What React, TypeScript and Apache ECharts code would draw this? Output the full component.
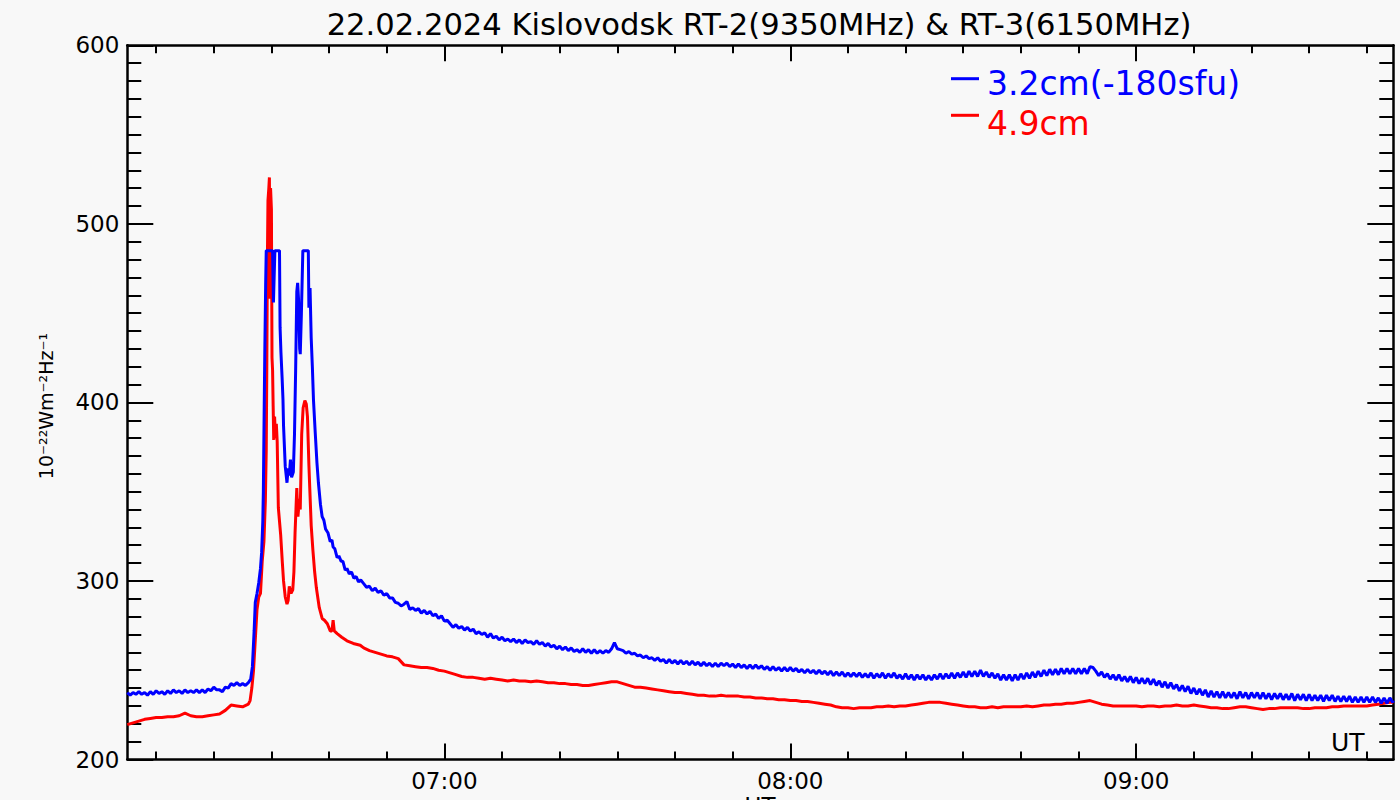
import React, { useEffect, useRef } from "react";
import * as echarts from "echarts";

const TITLE = "22.02.2024 Kislovodsk RT-2(9350MHz) & RT-3(6150MHz)";
const Y_NAME = "10⁻²²Wm⁻²Hz⁻¹";
const LEGEND_BLUE = "3.2cm(-180sfu)";
const LEGEND_RED = "4.9cm";
const X_UNIT = "UT";

// time axis in minutes after 06:00 UT
const X_MIN = 5;
const X_MAX = 224.6;
const X_MAJOR = [60, 120, 180];
const X_MINOR = [10, 20, 30, 40, 50, 70, 80, 90, 100, 110, 130, 140, 150, 160, 170, 190, 200, 210, 220];
const Y_MIN = 200;
const Y_MAX = 600;
const Y_STEP = 100;

// before the flare: blue every half minute, red every minute, from 06:05
const PRE_START = 5;
const bluePre = [
  237.5, 236, 237.5, 236.5, 238, 236.5, 237.5, 236, 238, 236.5,
  238.5, 237, 238, 236.5, 238.5, 237, 239, 237.5, 238.5, 237,
  239, 237.5, 238.5, 237.5, 239, 237.5, 239, 237.5, 239.5, 238.5,
  240.5, 239, 239, 238, 240.5, 240, 242.5, 241.5, 243, 241.5,
  242.5, 241.5,
];
const redPre = [219.5, 220.5, 221.5, 222.5, 223, 223.5, 223.5, 224, 224, 224.5, 226, 224.5, 224, 224, 224.5, 225, 225.5, 227.5, 230.5, 230, 229.5];

// flare: [minute, sfu]
const blueFlare: [number, number][] = [
  [26, 243], [26.4, 245], [26.7, 252], [27.0, 272], [27.2, 288], [27.5, 293], [27.8, 299], [28.1, 307],
  [28.3, 316], [28.5, 333], [28.6, 350], [28.75, 398], [28.85, 428], [29.0, 466], [29.1, 485], [30.2, 485],
  [30.35, 456], [30.6, 485], [31.4, 485], [31.5, 442], [31.65, 428], [31.85, 414], [32.0, 402], [32.1, 387],
  [32.4, 364], [32.7, 355], [32.9, 363], [33.1, 359], [33.3, 368], [33.5, 358], [33.8, 361], [34.0, 382],
  [34.2, 418], [34.4, 462], [34.55, 467], [34.7, 458], [34.9, 430], [35.0, 427], [35.2, 450], [35.45, 485],
  [36.4, 485], [36.5, 453], [36.7, 464], [36.9, 436], [37.1, 420], [37.3, 401], [37.6, 383], [37.9, 366],
  [38.15, 355], [38.5, 343], [38.8, 336], [39.1, 334], [39.4, 329], [39.8, 327], [40.2, 322], [40.5, 323],
  [40.7, 319], [41.0, 318], [41.4, 313], [41.7, 314], [42.1, 311], [42.4, 311], [42.8, 306], [43.1, 307],
  [43.5, 304], [43.9, 305], [44.3, 301.5], [44.7, 302.5], [45.1, 299.5], [45.5, 300.5],
];
const redFlare: [number, number][] = [
  [26, 231], [26.3, 233], [26.6, 240], [26.9, 250], [27.2, 267], [27.5, 284], [27.8, 291], [28.1, 293],
  [28.4, 311], [28.7, 322], [28.95, 345], [29.1, 373], [29.2, 420], [29.3, 480], [29.4, 513], [29.55, 520],
  [29.65, 526], [29.75, 458], [29.85, 520], [30.0, 508], [30.1, 425], [30.2, 418], [30.3, 398], [30.4, 379],
  [30.55, 392], [30.7, 380], [30.85, 388], [31.0, 378], [31.2, 341], [31.6, 326], [31.9, 310], [32.1, 300],
  [32.4, 291], [32.7, 287], [32.9, 289], [33.1, 297], [33.4, 293], [33.7, 295], [33.9, 305], [34.1, 327],
  [34.4, 352], [34.6, 336], [34.85, 346], [35.0, 340], [35.25, 382], [35.5, 397], [35.8, 401], [36.05, 399],
  [36.25, 392], [36.5, 365], [36.65, 352], [36.9, 331], [37.2, 317], [37.5, 305], [37.8, 296], [38.3, 285],
  [38.8, 279], [39.2, 278], [39.7, 276], [40.2, 272], [40.5, 272], [40.7, 278], [40.9, 272], [41.4, 270.5],
  [42.2, 268.5], [43.1, 266.5], [44.2, 265], [45.4, 264],
];

// decay: blue every half minute from 06:46, red every minute from 06:46
const TAIL_START = 46;
const blueTail = [
  298.5, 296.5, 297, 294.5, 296, 293.5, 294.5, 292, 293, 290.5,
  290.5, 288, 287.5, 286, 287, 288.5, 284, 285, 283.5, 284.5,
  282, 283.5, 281.5, 283, 280.5, 281.5, 279, 280.5, 277.5, 278,
  276, 274, 275.5, 273.5, 274.5, 272.5, 274, 272, 273, 270.5,
  271.5, 270, 271, 268.5, 270.5, 268, 269, 267, 268.5, 266.5,
  267.5, 266, 267.5, 265.5, 267, 265, 267, 265.5, 266, 264.5,
  266.5, 264.5, 265.5, 263.5, 265, 263, 264, 262, 263.5, 261.5,
  263, 261, 262.5, 260.5, 261.5, 260, 262, 260, 261.5, 259.5,
  261.5, 259.5, 261, 259.5, 261, 260, 262, 265.5, 262, 261.5,
  261, 259.5, 260.5, 259, 259.5, 258, 258.5, 257, 258, 256.5,
  257, 255.5, 257, 255, 256, 254, 256, 254, 255.5, 253.5,
  255.5, 253.5, 255, 253, 255, 253, 254.5, 252.5, 254.5, 252.5,
  254, 252, 254, 252, 254, 252.5, 254, 252, 253.5, 251.5,
  253.5, 251.5, 253, 251, 253, 251, 253, 251, 252.5, 250.5,
  252, 250, 252, 250, 251.5, 249.5, 251.5, 249.5, 251.5, 249.5,
  251, 249, 250.5, 248.5, 250.5, 248.5, 250, 248, 250, 248,
  249.5, 247.5, 249.5, 247, 249, 247, 249, 246.5, 248.5, 246.5,
  248.5, 246.5, 248.5, 246, 248, 246, 248.5, 245.5, 248, 246,
  248.5, 245.5, 248, 246, 248.5, 245.5, 247.5, 245, 248, 245,
  247.5, 244.5, 247.5, 245, 247.5, 244.5, 247, 244.5, 247.5, 245,
  248, 245, 248, 245.5, 248.5, 245.5, 248.5, 246, 249, 246,
  249.5, 246.5, 249.5, 246.5, 250, 246.5, 249, 246, 248.5, 245.5,
  248, 244.5, 247.5, 244.5, 247.5, 244, 247.5, 244.5, 248, 245,
  248.5, 245.5, 249, 246, 249.5, 246.5, 250, 247, 250.5, 247.5,
  250.5, 247.5, 251, 248, 251, 248, 251, 248, 251, 248,
  251, 248, 252, 251.5, 249.5, 247, 249, 246, 248, 245,
  247.5, 244.5, 247.5, 244, 246.5, 243.5, 246.5, 243, 246, 242.5,
  245.5, 242.5, 245.5, 242, 245, 241.5, 244, 240.5, 243.5, 240,
  243, 239.5, 242, 238.5, 241.5, 238, 241, 237, 240, 236.5,
  239.5, 236, 239, 235, 238.5, 235, 238, 234.5, 238, 234.5,
  237.5, 234.5, 237.5, 234, 238, 234.5, 237.5, 234, 237.5, 234.5,
  237.5, 234, 237.5, 234, 237, 233.5, 237, 234, 237, 233.5,
  236.5, 233.5, 237, 233, 236.5, 233.5, 236.5, 233, 236.5, 233,
  236, 233, 236, 232.5, 236, 233, 236, 232.5, 235.5, 232.5,
  235.5, 232.5, 235.5, 232, 235, 232, 235, 232, 235, 232,
  235, 232, 234.5, 231.5, 234.5, 231.5, 234.5, 232,
];
const redTail = [
  262.5, 261, 260, 259, 258, 257.5, 256.5, 253, 252.5, 252,
  251.5, 251.5, 251, 250, 249.5, 248.5, 247.5, 246.5, 246, 246,
  245.5, 245, 245.5, 245, 244.5, 244, 244.5, 244, 244, 243.5,
  244, 243.5, 243, 243, 242.5, 242.5, 242, 242, 241.5, 241.5,
  242, 242.5, 243, 243.5, 243.5, 242.5, 241.5, 240.5, 240.5, 240,
  239.5, 239, 238.5, 238, 237.5, 237.5, 237, 236.5, 236, 236,
  235.5, 235.5, 236, 235.5, 235.5, 235.5, 235, 235, 234.5, 234.5,
  234, 234, 233.5, 233.5, 233, 233, 232.5, 232.5, 232, 231.5,
  231, 230.5, 229.5, 229, 229, 228.5, 229, 229, 229, 229.5,
  229.5, 230, 229.5, 230, 230, 230.5, 231, 231.5, 232, 232,
  232, 231.5, 231, 230.5, 230, 229.5, 229.5, 229, 229, 229.5,
  229, 229.5, 229.5, 229.5, 229.5, 230, 229.5, 230, 230.5, 230.5,
  231, 231, 231.5, 231.5, 232, 232.5, 233, 232, 231, 230.5,
  230, 230, 230, 230, 230, 229.5, 230, 230, 229.5, 230,
  230, 230.5, 230, 230, 230.5, 230, 229.5, 229, 229, 228.5,
  228.5, 229, 229.5, 229.5, 229, 228.5, 228, 228.5, 228.5, 229,
  229, 229, 229, 228.5, 228.5, 229, 229, 229, 229.5, 229.5,
  230, 230, 230, 230, 230, 230.5, 231, 231.5, 232,
];
const blueEnd: [number, number] = [224.6, 233];
const redEnd: [number, number] = [224.6, 232];

const BLUE = "#0000ff";
const RED = "#ff0000";
const BG = "#f8f8f8";
const FONT = "DejaVu Sans";

function buildSeries(
  pre: number[],
  preStep: number,
  flare: [number, number][],
  tail: number[],
  tailStep: number,
  end: [number, number]
) {
  const out: [number, number][] = [];
  pre.forEach((v, i) => out.push([PRE_START + i * preStep, v]));
  flare.forEach((p) => out.push(p));
  tail.forEach((v, i) => out.push([TAIL_START + i * tailStep, v]));
  out.push(end);
  return out;
}

function fmtTime(v: number) {
  const m = Math.round(360 + v);
  const h = Math.floor(m / 60);
  const mm = m % 60;
  return String(h).padStart(2, "0") + ":" + String(mm).padStart(2, "0");
}

const axisLineStyle = { color: "#000", width: 2.5 };
const tickLineStyle = { color: "#000", width: 2 };

function xAxisDef(position: "top" | "bottom", major: boolean, labels: boolean) {
  return {
    type: "value",
    gridIndex: 0,
    position,
    min: X_MIN,
    max: X_MAX,
    axisLine: { show: major, onZero: false, lineStyle: axisLineStyle },
    axisTick: {
      show: true,
      inside: true,
      length: major ? 16 : 8,
      customValues: major ? X_MAJOR : X_MINOR,
      lineStyle: tickLineStyle,
    },
    axisLabel: labels
      ? {
          show: true,
          customValues: X_MAJOR,
          formatter: (v: number) => fmtTime(v),
          margin: 10,
          fontSize: 23,
          fontFamily: FONT,
          color: "#000",
        }
      : { show: false },
    splitLine: { show: false },
  };
}

function yAxisDef(position: "left" | "right", labels: boolean) {
  return {
    type: "value",
    gridIndex: 0,
    position,
    min: Y_MIN,
    max: Y_MAX,
    interval: Y_STEP,
    axisLine: { show: true, onZero: false, lineStyle: axisLineStyle },
    axisTick: { show: true, inside: true, length: 26, lineStyle: tickLineStyle },
    minorTick: { show: true, splitNumber: 10, length: 14, lineStyle: tickLineStyle },
    axisLabel: labels
      ? { show: true, margin: 8, fontSize: 23, fontFamily: FONT, color: "#000" }
      : { show: false },
    splitLine: { show: false },
    minorSplitLine: { show: false },
  };
}

function txt(text: string, x: number, y: number, size: number, color: string, align: string, extra: any = {}) {
  return {
    type: "text",
    x,
    y,
    silent: true,
    ...extra,
    style: {
      text,
      fill: color,
      fontSize: size,
      fontFamily: FONT,
      align,
      verticalAlign: "middle",
      textAlign: align,
      textVerticalAlign: "middle",
    },
  };
}

export default function App() {
  const ref = useRef<HTMLDivElement>(null);

  useEffect(() => {
    document.body.style.margin = "0";
    document.body.style.background = BG;
    if (!ref.current) return;
    const chart = echarts.init(ref.current, undefined, { renderer: "svg" });
    const option: any = {
      animation: false,
      backgroundColor: BG,
      grid: { left: 127.3, right: 6.7, top: 45.3, bottom: 40.5, containLabel: false },
      xAxis: [
        xAxisDef("bottom", true, true),
        xAxisDef("bottom", false, false),
        xAxisDef("top", true, false),
        xAxisDef("top", false, false),
      ],
      yAxis: [yAxisDef("left", true), yAxisDef("right", false)],
      series: [
        {
          name: LEGEND_RED,
          type: "line",
          xAxisIndex: 0,
          yAxisIndex: 0,
          data: buildSeries(redPre, 1, redFlare, redTail, 1, redEnd),
          showSymbol: false,
          symbol: "none",
          lineStyle: { color: RED, width: 3 },
          itemStyle: { color: RED },
          z: 2,
        },
        {
          name: LEGEND_BLUE,
          type: "line",
          xAxisIndex: 0,
          yAxisIndex: 0,
          data: buildSeries(bluePre, 0.5, blueFlare, blueTail, 0.5, blueEnd),
          showSymbol: false,
          symbol: "none",
          lineStyle: { color: BLUE, width: 3 },
          itemStyle: { color: BLUE },
          z: 3,
        },
      ],
      graphic: [
        txt(TITLE, 759, 24, 30.6, "#000", "center"),
        txt(Y_NAME, 46, 406, 19, "#000", "center", { rotation: Math.PI / 2 }),
        {
          type: "line",
          silent: true,
          shape: { x1: 951, y1: 78.7, x2: 979, y2: 78.7 },
          style: { stroke: BLUE, lineWidth: 3 },
        },
        {
          type: "line",
          silent: true,
          shape: { x1: 951, y1: 115.3, x2: 979, y2: 115.3 },
          style: { stroke: RED, lineWidth: 3 },
        },
        txt(LEGEND_BLUE, 987, 83, 33, BLUE, "left"),
        txt(LEGEND_RED, 987, 123, 33, RED, "left"),
        txt(X_UNIT, 1331, 742.5, 25, "#000", "left"),
        txt(X_UNIT, 760, 806, 23, "#000", "center"),
      ],
    };
    chart.setOption(option);
    return () => chart.dispose();
  }, []);

  return (
    <div
      ref={ref}
      style={{ position: "absolute", left: 0, top: 0, width: 1400, height: 800, background: BG }}
    />
  );
}
